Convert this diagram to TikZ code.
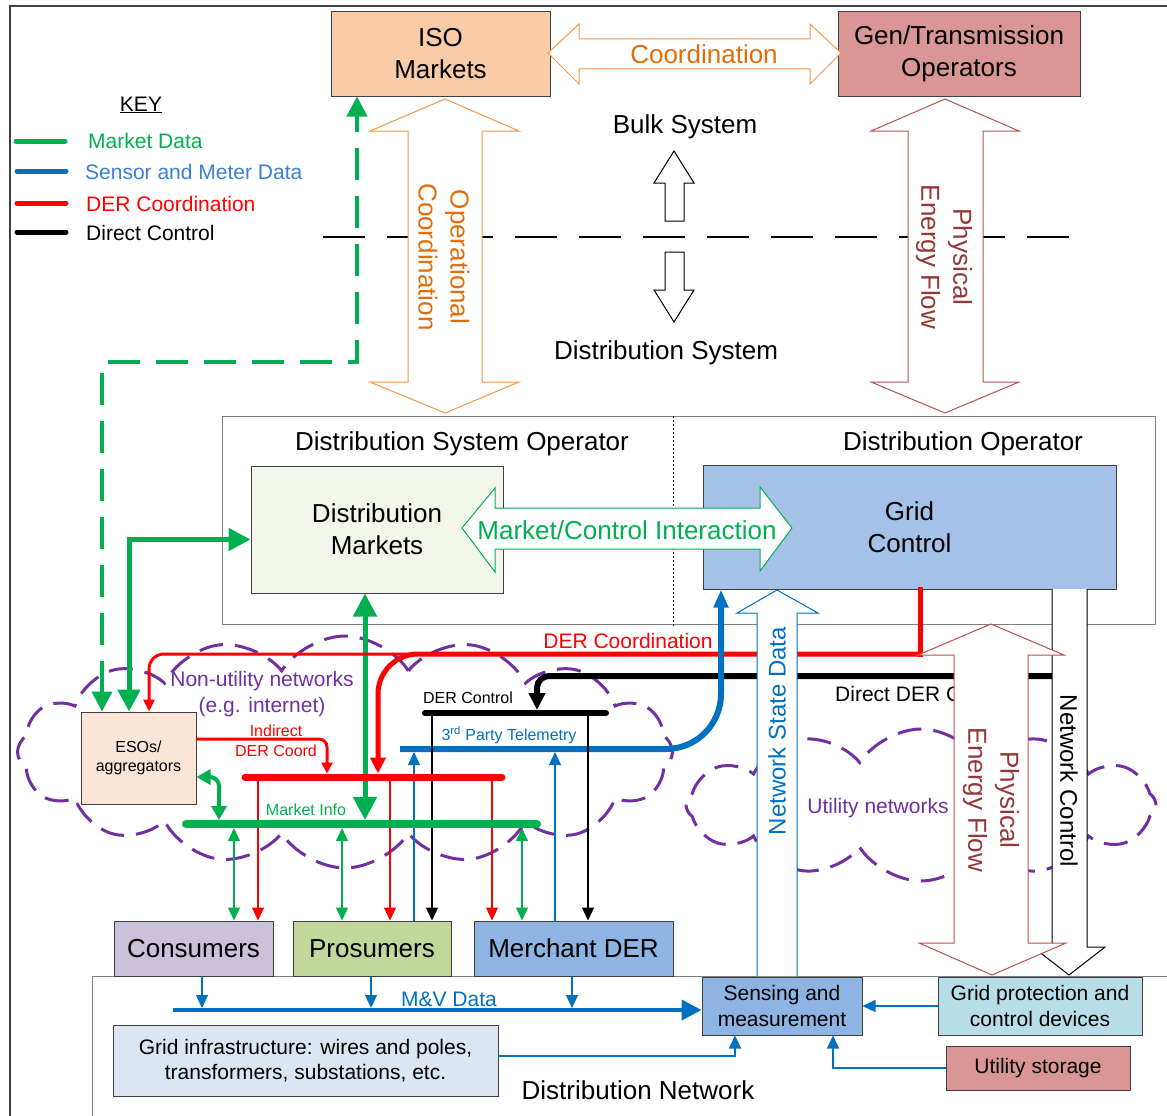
\documentclass[tikz,border=0pt]{standalone}
\usepackage{fontspec}
\setmainfont{Liberation Sans}
\usetikzlibrary{arrows.meta,shapes.symbols}

\definecolor{cGreen}{HTML}{00B050}
\definecolor{cRed}{HTML}{FF0000}
\definecolor{cBlue}{HTML}{0070C0}
\definecolor{cKeyBlue}{HTML}{3A7FD5}
\definecolor{cOrange}{HTML}{F79646}
\definecolor{cOrangeTxt}{HTML}{E46C0A}
\definecolor{cBrown}{HTML}{B9504D}
\definecolor{cBrownTxt}{HTML}{953735}
\definecolor{cPurple}{HTML}{7030A0}
\definecolor{cEdge}{HTML}{404040}
\definecolor{cFrame}{HTML}{7F7F7F}
\definecolor{fIso}{HTML}{F9CBA6}
\definecolor{fGen}{HTML}{D99694}
\definecolor{fDm}{HTML}{F2F5EA}
\definecolor{fGc}{HTML}{A4C1E7}
\definecolor{fEso}{HTML}{FBE5D6}
\definecolor{fCons}{HTML}{CCC1DA}
\definecolor{fPros}{HTML}{C4D79B}
\definecolor{fMerch}{HTML}{8EB4E3}
\definecolor{fGp}{HTML}{B7DEE8}
\definecolor{fInfra}{HTML}{DCE6F2}

\newcommand\FsBig{\fontsize{26}{32}\selectfont}
\newcommand\FsRot{\fontsize{24}{30}\selectfont}
\newcommand\FsMid{\fontsize{21}{25.5}\selectfont}
\newcommand\FsSml{\fontsize{16}{19.5}\selectfont}

\begin{document}
\begin{tikzpicture}[x=1pt,y=-1pt,
  box/.style={draw=cEdge, line width=1pt, inner sep=0pt, align=center},
  txt/.style={inner sep=0pt, align=center},
  hollow/.style={fill=white, line width=1pt, line join=miter},
  keyline/.style={line width=5pt, line cap=round},
  netcloud/.style={cloud, cloud ignores aspect, cloud puff arc=115, draw=cPurple, line width=3pt, dash pattern=on 24pt off 12pt},
  wire/.style={line width=1.2pt},
  tS/.style={-{Triangle[length=13pt,width=12pt]}},
  tSS/.style={{Triangle[length=13pt,width=12pt]}-{Triangle[length=13pt,width=12pt]}},
]
\useasboundingbox (0,0) rectangle (1167,1116);

% outer frame
\draw[cEdge, line width=1.5pt] (10,1116) -- (10,6) -- (1167,6);

% key
\node[txt, font=\FsMid] (key) at (141,105) {\underline{KEY}};
\draw[keyline, cGreen] (16,141) -- (65,141);
\node[txt, anchor=west, text=cGreen, font=\FsMid] (kMarket) at (88,141) {Market Data};
\draw[keyline, cBlue] (17,171) -- (66,171);
\node[txt, anchor=west, text=cKeyBlue, font=\FsMid] (kSensor) at (85,172) {Sensor and Meter Data};
\draw[keyline, cRed] (17,203) -- (66,203);
\node[txt, anchor=west, text=cRed, font=\FsMid] (kDer) at (86,204) {DER Coordination};
\draw[keyline, black] (17,232) -- (66,232);
\node[txt, anchor=west, font=\FsMid] (kDirect) at (86,233) {Direct Control};

% network clouds
\node[netcloud, cloud puffs=16, minimum width=655, minimum height=232] (nonutil) at (345,752) {};
\node[netcloud, cloud puffs=12, minimum width=470, minimum height=152] (util) at (921,805) {};

% bulk system
\node[box, fill=fIso, minimum width=219, minimum height=84, font=\FsBig] (iso) at (440.5,54) {ISO\\Markets};
\node[box, fill=fGen, minimum width=242, minimum height=84, font=\FsBig] (gen) at (959,54) {Gen/Transmission\\Operators};
\draw[hollow, draw=cOrange] (548,53) -- (579,24) -- (579,39) -- (810,39) -- (810,24) -- (841,53) -- (810,84) -- (810,69) -- (579,69) -- (579,84) -- cycle;
\node[txt, text=cOrangeTxt, font=\FsBig] (coord) at (704,54) {Coordination};

% boundary between bulk and distribution
\draw[black, line width=2pt, dash pattern=on 42pt off 22pt] (323,237) -- (1072,237);

\draw[hollow, draw=cOrange] (445,99) -- (519,131) -- (482,131) -- (482,382) -- (519,382) -- (445,413) -- (370,382) -- (408,382) -- (408,131) -- (370,131) -- cycle;
\node[txt, text=cOrangeTxt, rotate=-90, font=\FsBig] (opcoord) at (444,257) {Operational\\Coordination};
\draw[hollow, draw=cBrown] (945,99) -- (1019,131) -- (983,131) -- (983,382) -- (1019,382) -- (945,413) -- (871,382) -- (908,382) -- (908,131) -- (871,131) -- cycle;
\node[txt, text=cBrownTxt, rotate=-90, font=\FsBig] (pef1) at (944,257) {Physical\\Energy Flow};

\draw[hollow, draw=black] (674,151) -- (694,183) -- (684,183) -- (684,221) -- (665,221) -- (665,183) -- (654,183) -- cycle;
\draw[hollow, draw=black] (665,252) -- (684,252) -- (684,290) -- (694,290) -- (674,322) -- (654,290) -- (665,290) -- cycle;
\node[txt, font=\FsBig] (bulk) at (685,127) {Bulk System};
\node[txt, font=\FsBig] (dsys) at (666,353) {Distribution System};

% operators
\node[draw=cFrame, line width=1pt, minimum width=933, minimum height=208, inner sep=0pt] (dso) at (688.5,520) {};
\draw[black, line width=0.8pt, dash pattern=on 2pt off 2pt] (673,416) -- (673,626);
\node[txt, font=\FsBig] (dsoT) at (462,444) {Distribution System Operator};
\node[txt, font=\FsBig] (doT) at (963,444) {Distribution Operator};
\node[box, fill=fDm, minimum width=252, minimum height=127, font=\FsBig] (dm) at (377,529.5) {Distribution\\Markets};
\node[box, fill=fGc, minimum width=413, minimum height=124, font=\FsBig] (gc) at (909.5,527) {Grid\\Control};
\draw[hollow, draw=cGreen] (462,528) -- (495,488) -- (495,508) -- (760,508) -- (760,487) -- (792,528) -- (760,571) -- (760,549) -- (495,549) -- (495,572) -- cycle;
\node[txt, text=cGreen, font=\FsBig] (mci) at (627,530) {Market/Control Interaction};

% participants and distribution network
\draw[cFrame, line width=1pt] (92,1116) -- (92,976) -- (1167,976);
\node[box, fill=fEso, minimum width=115, minimum height=92, font=\FsSml] (eso) at (138.5,758) {ESOs/\\aggregators};
\node[box, fill=fCons, minimum width=159, minimum height=55, font=\FsBig] (cons) at (193.5,948.5) {Consumers};
\node[box, fill=fPros, minimum width=158, minimum height=55, font=\FsBig] (pros) at (372,948.5) {Prosumers};
\node[box, fill=fMerch, minimum width=199, minimum height=55, font=\FsBig] (merch) at (573.5,948.5) {Merchant DER};
\node[box, fill=fMerch, minimum width=160, minimum height=58, font=\FsMid] (sens) at (782,1006) {Sensing and\\measurement};
\node[box, fill=fGp, minimum width=204, minimum height=58, font=\FsMid] (gp) at (1040,1006) {Grid protection and\\control devices};
\node[box, fill=fGen, minimum width=184, minimum height=44, font=\FsMid] (stor) at (1038,1068) {Utility storage};
\node[box, fill=fInfra, minimum width=385, minimum height=71, font=\FsMid] (infra) at (305.5,1060.5) {Grid infrastructure: wires and poles,\\transformers, substations, etc.};
\node[txt, font=\FsBig] (dnet) at (638,1090) {Distribution Network};

% bus levels
\coordinate (kbar) at (0,713);
\coordinate (bbar) at (0,749);
\coordinate (rbar) at (0,777);
\coordinate (gbar) at (0,824);
\coordinate (mv) at (0,1010);

% market data
\draw[cGreen, line width=4pt, dash pattern=on 32pt off 16pt, {Triangle[length=20pt,width=20pt]}-{Triangle[length=20pt,width=20pt]}] ([xshift=-36.5]eso.north) -- (102,362) -- (357,362) -- ([xshift=-83.5]iso.south);
\draw[cGreen, line width=5pt, {Triangle[length=22pt,width=22pt]}-{Triangle[length=22pt,width=22pt]}] ([xshift=-9.5]eso.north) -- (129,539.5) -- ([yshift=-10]dm.west);
\draw[cGreen, line width=5pt, shorten >=4pt, {Triangle[length=23pt,width=23pt]}-{Triangle[length=23pt,width=23pt]}] ([xshift=-12]dm.south) -- ([xshift=-12]dm.south |- gbar);
\draw[cGreen, line width=4pt, rounded corners=9, shorten >=4pt, {Triangle[length=14pt,width=15pt]}-{Triangle[length=14pt,width=15pt]}] ([yshift=-19]eso.east) -- (219,777) -- (219,824);

% DER coordination
\draw[cRed, line width=3pt, rounded corners=15, -{Triangle[length=12pt,width=11pt]}] (560,654) -- (149,654) -- ([xshift=10.5]eso.north);
\draw[cRed, line width=5pt, line cap=rect] ([xshift=10.5]gc.south) -- (920,654);
\draw[cRed, line width=5pt, rounded corners=40, shorten >=3.5pt, -{Triangle[length=16pt,width=15pt]}] (922.5,654) -- (378,654) -- (378,777);
\draw[cRed, line width=3pt, rounded corners=8, shorten >=3.5pt, -{Triangle[length=11pt,width=11pt]}] ([yshift=19]eso.east) -- (327,739) -- (327,777);

% direct control and telemetry
\draw[black, line width=6pt, rounded corners=12, shorten >=3pt, -{Triangle[length=17pt,width=16pt]}] (1052,676) -- (537,676) -- (537,713);
\draw[cBlue, line width=6pt, rounded corners=55, -{Triangle[length=18pt,width=14pt]}] (400,749) -- (721,749) -- ([xshift=-188.5]gc.south);

% drops to participants
\draw[wire, cGreen, tSS, shorten <=4pt] ([xshift=40.5]cons.north |- gbar) -- ([xshift=40.5]cons.north);
\draw[wire, cRed, tS] ([xshift=64.5]cons.north |- rbar) -- ([xshift=64.5]cons.north);
\draw[wire, cGreen, tSS, shorten <=4pt] ([xshift=-30]pros.north |- gbar) -- ([xshift=-30]pros.north);
\draw[wire, cRed, tS] ([xshift=18]pros.north |- rbar) -- ([xshift=18]pros.north);
\draw[wire, cBlue, tS, shorten >=3pt] ([xshift=42]pros.north) -- ([xshift=42]pros.north |- bbar);
\draw[wire, black, tS] ([xshift=60]pros.north |- kbar) -- ([xshift=60]pros.north);
\draw[wire, cRed, tS] ([xshift=-81.5]merch.north |- rbar) -- ([xshift=-81.5]merch.north);
\draw[wire, cGreen, tSS, shorten <=4pt] ([xshift=-51.5]merch.north |- gbar) -- ([xshift=-51.5]merch.north);
\draw[wire, cBlue, tS, shorten >=3pt] ([xshift=-18.5]merch.north) -- ([xshift=-18.5]merch.north |- bbar);
\draw[wire, black, tS] ([xshift=14.5]merch.north |- kbar) -- ([xshift=14.5]merch.north);

% buses
\draw[black, line width=6pt, line cap=round] (425,713) -- (606,713);
\draw[cRed, line width=7pt, line cap=round] (245,777) -- (502,777);
\draw[cGreen, line width=8pt, line cap=round] (186,824) -- (537,824);

% labels
\node[txt, text=cPurple, font=\FsMid] (nuT) at (262,694) {Non-utility networks\\(e.g. internet)};
\node[txt, text=cRed, font=\FsSml] (indT) at (276,741) {Indirect\\DER Coord};
\node[txt, text=cRed, font=\FsMid] (dercT) at (628,641) {DER Coordination};
\node[txt, font=\FsSml] (dercoT) at (468,698) {DER Control};
\node[txt, text=cBlue, font=\FsSml] (telT) at (509,735) {3\textsuperscript{rd} Party Telemetry};
\node[txt, text=cGreen, font=\FsSml] (miT) at (306,810) {Market Info};
\node[txt, anchor=west, font=\FsMid] (ddcT) at (835,694) {Direct DER Control};
\node[txt, text=cPurple, font=\FsMid] (unT) at (878,808) {Utility networks};

% utility-side flows
\draw[hollow, draw=black] (1052,589) -- (1052,947) -- (1033,947) -- (1069,975) -- (1105,947) -- (1087,947) -- (1087,589);
\node[txt, rotate=-90, font=\FsRot] (ncT) at (1069,781) {Network Control};
\draw[hollow, draw=cBrown] (991,624) -- (1064,655) -- (1028,655) -- (1028,943) -- (1066,943) -- (992,975) -- (919,943) -- (954,943) -- (954,655) -- (918,655) -- cycle;
\node[txt, text=cBrownTxt, rotate=-90, font=\FsBig] (pef2) at (991,800) {Physical\\Energy Flow};
\draw[hollow, draw=cBlue] (757,976) -- (757,613) -- (737,613) -- (777,590) -- (818,613) -- (797,613) -- (797,976);
\node[txt, text=cBlue, rotate=90, font=\FsRot] (nsdT) at (777,731) {Network State Data};

% measurement and verification
\draw[cBlue, line width=4pt, -{Triangle[length=20pt,width=20pt]}] (173,1010) -- ([yshift=-4]sens.west);
\node[txt, text=cBlue, font=\FsMid] (mvT) at (449,999) {M\&V Data};
\draw[wire, cBlue, tS, shorten >=2pt] ([xshift=8.5]cons.south) -- ([xshift=8.5]cons.south |- mv);
\draw[wire, cBlue, tS, shorten >=2pt] ([xshift=-1]pros.south) -- ([xshift=-1]pros.south |- mv);
\draw[wire, cBlue, tS, shorten >=2pt] ([xshift=-1.5]merch.south) -- ([xshift=-1.5]merch.south |- mv);
\draw[wire, cBlue, tS] ([yshift=4.5]infra.east) -| ([xshift=-47]sens.south);
\draw[wire, cBlue, tS] (stor.west) -| ([xshift=51]sens.south);
\draw[wire, cBlue, tS] (gp.west) -- (sens.east);
\end{tikzpicture}
\end{document}
